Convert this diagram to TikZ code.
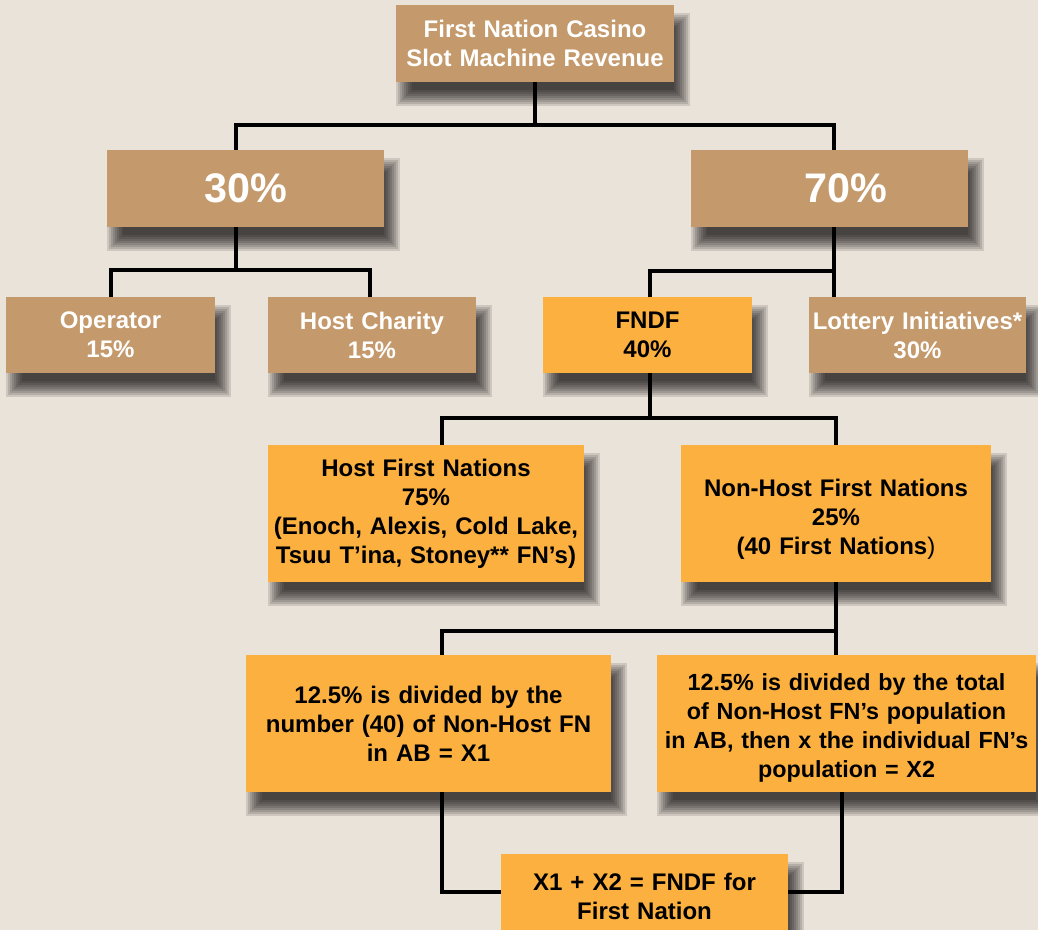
\documentclass[tikz,border=0pt]{standalone}
\usepackage{fontspec}
\setmainfont{Liberation Sans}
\usepackage{tikz}
\pgfdeclarelayer{background}
\pgfsetlayers{background,main}
\definecolor{fnbg}{HTML}{EAE3DA}
\definecolor{fntan}{HTML}{C4996B}
\definecolor{fnorange}{HTML}{FBB040}
\newcommand{\boxfont}{\bfseries\fontsize{18}{21.75}\selectfont}
\newcommand{\bigfont}{\bfseries\fontsize{31}{36}\selectfont}

\begin{document}
\begin{tikzpicture}[x=0.75pt,y=-0.75pt,
  tanbox/.style={rectangle,inner sep=0pt,fill=fntan,text=white,align=center,font=\boxfont},
  orbox/.style={rectangle,inner sep=0pt,fill=fnorange,text=black,align=center,font=\boxfont},
  link/.style={draw=black,line width=2.3pt}]
\begin{pgfonlayer}{background}
\fill[fnbg] (0,0) rectangle (1038,930);
\end{pgfonlayer}
\useasboundingbox (0,0) rectangle (1038,930);
% boxes
\node[tanbox,minimum width=208.5pt,minimum height=57.75pt,text width=208.5pt] (title) at (535,43.5) {First Nation Casino\\Slot Machine Revenue};
\node[tanbox,minimum width=207.75pt,minimum height=57.75pt,text width=207.75pt,font=\bigfont] (p30) at (245.5,188.5) {30\%};
\node[tanbox,minimum width=207.75pt,minimum height=57.75pt,text width=207.75pt,font=\bigfont] (p70) at (829.5,188.5) {\hspace*{24pt}70\%};
\node[tanbox,minimum width=156.75pt,minimum height=57pt,text width=156.75pt] (oper) at (110.5,335) {Operator\\15\%};
\node[tanbox,minimum width=156pt,minimum height=57pt,text width=156pt] (char) at (372,335) {Host Charity\\15\%};
\node[orbox,minimum width=156.75pt,minimum height=57pt,text width=156.75pt] (fndf) at (647.5,335) {FNDF\\40\%};
\node[tanbox,minimum width=162.75pt,minimum height=57pt,text width=162.75pt] (lott) at (917.5,335) {Lottery Initiatives*\\30\%};
\node[orbox,minimum width=237pt,minimum height=102.75pt,text width=237pt] (hostfn) at (426,513.5) {Host First Nations\\75\%\\(Enoch, Alexis, Cold Lake,\\Tsuu T’ina, Stoney** FN’s)};
\node[orbox,minimum width=232.5pt,minimum height=102.75pt,text width=232.5pt] (nonhost) at (836,513.5) {\rule{0pt}{22pt}Non-Host First Nations\\25\%\\(40 First Nations\textmd{)}};
\node[orbox,minimum width=273.75pt,minimum height=102.75pt,text width=273.75pt] (left12) at (428.5,723.5) {12.5\% is divided by the\\number (40) of Non-Host FN\\in AB = X1};
\node[orbox,minimum width=284.25pt,minimum height=102.75pt,text width=284.25pt,font=\bfseries\fontsize{17.5}{21.75}\selectfont] (right12) at (846.5,723.5) {\rule{0pt}{20pt}12.5\% is divided by the total\\of Non-Host FN’s population\\in AB, then x the individual FN’s\\population = X2};
\node[orbox,minimum width=215.25pt,minimum height=63.75pt,text width=215.25pt] (sum) at (644.5,896.5) {X1 + X2 = FNDF for\\First Nation};
% soft shadows
\begin{pgfonlayer}{background}
\foreach \n in {title,p30,p70,oper,char,fndf,lott,hostfn,nonhost,left12,right12,sum}{
  \foreach \g in {-8,-6,...,8}{
    \fill[black,opacity=0.12] ([shift={({8-\g},{16+\g})}]\n.south west) rectangle ([shift={({8+\g},{16-\g})}]\n.north east);
  }
}
\end{pgfonlayer}
% junctions
\coordinate (b0) at (535,125);
\coordinate (b1) at (236,125);
\coordinate (b2) at (834,125);
\coordinate (c0) at (236,270);
\coordinate (c1) at (111,270);
\coordinate (c2) at (370,270);
\coordinate (d1) at (650,271);
\coordinate (d2) at (834,271);
\coordinate (e0) at (650,418);
\coordinate (e1) at (442,418);
\coordinate (e2) at (836,418);
\coordinate (f1) at (442,631);
\coordinate (f2) at (836,631);
\coordinate (g1) at (442,892);
\coordinate (g2) at (842,892);
% connectors
\draw[link] (title) -- (title |- b0);
\draw[link] (b1 |- p30.north) -- (b1) -- (b2) -- (b2 |- p70.north);
\draw[link] (c0 |- p30.south) -- (c0);
\draw[link] (c1 |- oper.north) -- (c1) -- (c2) -- (c2 |- char.north);
\draw[link] (d2 |- p70.south) -- (d2);
\draw[link] (d1 |- fndf.north) -- (d1) -- (d2) -- (d2 |- lott.north);
\draw[link] (e0 |- fndf.south) -- (e0);
\draw[link] (e1 |- hostfn.north) -- (e1) -- (e2) -- (e2 |- nonhost.north);
\draw[link] (f2 |- nonhost.south) -- (f2) -- (f1) -- (f1 |- left12.north);
\draw[link] (f2) -- (f2 |- right12.north);
\draw[link] (g1 |- left12.south) -- (g1) -- (sum.west |- g1);
\draw[link] (g2 |- right12.south) -- (g2) -- (sum.east |- g2);
\end{tikzpicture}
\end{document}
